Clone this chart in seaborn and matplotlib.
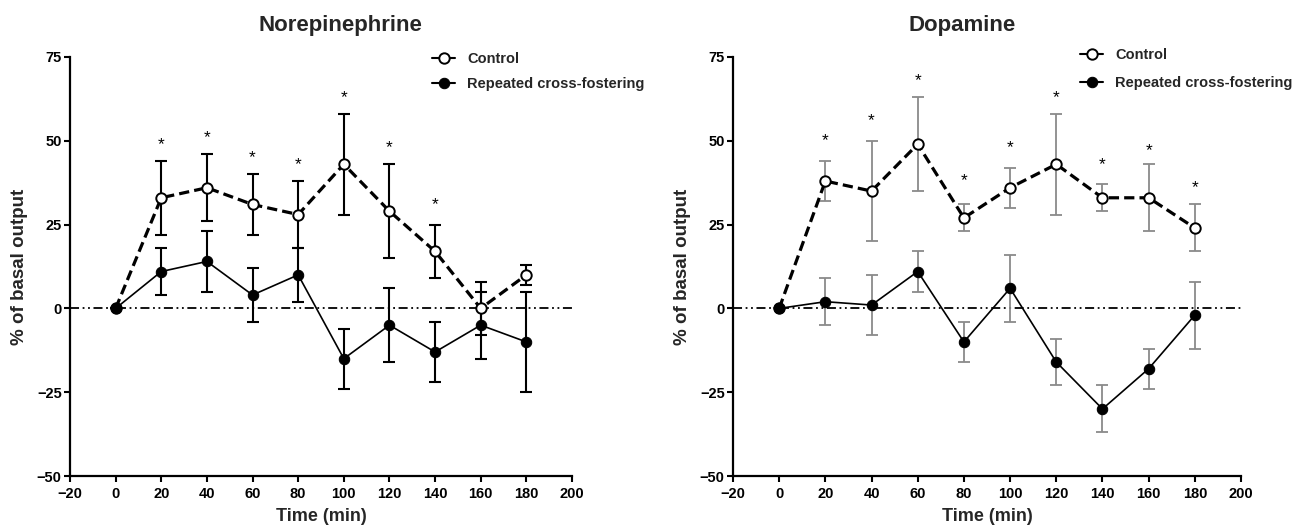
import matplotlib
matplotlib.use("Agg")
import matplotlib.pyplot as plt
import seaborn as sns
import pandas as pd
import numpy as np

# ---- data ----
time = [0, 20, 40, 60, 80, 100, 120, 140, 160, 180]

ne_ctrl = [0, 33, 36, 31, 28, 43, 29, 17, 0, 10]
ne_ctrl_err = [0, 11, 10, 9, 10, 15, 14, 8, 8, 3]
ne_rcf = [0, 11, 14, 4, 10, -15, -5, -13, -5, -10]
ne_rcf_err = [0, 7, 9, 8, 8, 9, 11, 9, 10, 15]
ne_star_x = [20, 40, 60, 80, 100, 120, 140]
ne_star_y = [49, 51, 45, 43, 63, 48, 31]

da_ctrl = [0, 38, 35, 49, 27, 36, 43, 33, 33, 24]
da_ctrl_err = [0, 6, 15, 14, 4, 6, 15, 4, 10, 7]
da_rcf = [0, 2, 1, 11, -10, 6, -16, -30, -18, -2]
da_rcf_err = [0, 7, 9, 6, 6, 10, 7, 7, 6, 10]
da_star_x = [20, 40, 60, 80, 100, 120, 140, 160, 180]
da_star_y = [50, 56, 68, 38, 48, 63, 43, 47, 36]

titles = ["Norepinephrine", "Dopamine"]
series_names = ["Control", "Repeated cross-fostering"]
xticks = list(range(-20, 201, 20))
yticks = [-50, -25, 0, 25, 50, 75]

sns.set_theme(style="ticks")
plt.rcParams["font.family"] = ["Liberation Sans", "DejaVu Sans"]

W, H = 1293, 527
fig = plt.figure(figsize=(W / 100, H / 100), dpi=100)

def fx(px):
    return px / W

def fy(py):
    return 1 - py / H

ax1 = fig.add_axes([fx(70), fy(476), fx(572 - 70), (476 - 57) / H])
ax2 = fig.add_axes([fx(733), fy(476), fx(1241 - 733), (476 - 57) / H])

panels = [
    (ax1, ne_ctrl, ne_ctrl_err, ne_rcf, ne_rcf_err, ne_star_x, ne_star_y, "black", 1.5, 340, 432, 52, 0.75),
    (ax2, da_ctrl, da_ctrl_err, da_rcf, da_rcf_err, da_star_x, da_star_y, "#8a8a8a", 1.3, 962, 1080, 48, 0.95),
]

for i, (ax, c, ce, r, re_, sx, sy, ecol, elw, tx, lx, ly, lsp) in enumerate(panels):
    df = pd.DataFrame({
        "time": time * 2,
        "value": c + r,
        "group": [series_names[0]] * len(time) + [series_names[1]] * len(time),
    })
    # zero reference line
    ax.axhline(0, color="black", lw=1.3, ls=(0, (5, 2, 1, 2, 1, 2)), zorder=1)
    # error bars
    ax.errorbar(time, c, yerr=ce, fmt="none", ecolor=ecol, elinewidth=elw,
                capsize=4.5, capthick=elw, zorder=2)
    ax.errorbar(time, r, yerr=re_, fmt="none", ecolor=ecol, elinewidth=elw,
                capsize=4.5, capthick=elw, zorder=2)
    # lines
    sns.lineplot(data=df[df.group == series_names[0]], x="time", y="value", ax=ax,
                 color="black", lw=2.3, marker="o", markersize=7.5,
                 markerfacecolor="white", markeredgecolor="black", markeredgewidth=1.4,
                 dashes=False, linestyle=(0, (3.2, 1.6)), label=series_names[0], zorder=3)
    sns.lineplot(data=df[df.group == series_names[1]], x="time", y="value", ax=ax,
                 color="black", lw=1.2, marker="o", markersize=7.5,
                 markerfacecolor="black", markeredgecolor="black",
                 label=series_names[1], zorder=4)
    # stars
    for xs, ys in zip(sx, sy):
        ax.text(xs, ys, "*", ha="center", va="center", fontsize=12.5, color="black")

    ax.set_xlim(-20, 200)
    ax.set_ylim(-50, 75)
    ax.set_xticks(xticks)
    ax.set_yticks(yticks)
    for lab in ax.get_xticklabels() + ax.get_yticklabels():
        lab.set_fontweight("bold")
        lab.set_fontsize(10.5)
    ax.tick_params(direction="out", length=4, width=1.5, pad=2, colors="black")
    ax.tick_params(axis="x", pad=4)
    for s in ["top", "right"]:
        ax.spines[s].set_visible(False)
    for s in ["left", "bottom"]:
        ax.spines[s].set_linewidth(1.6)
        ax.spines[s].set_color("black")
    ax.set_xlabel("Time (min)", fontsize=13, fontweight="bold", labelpad=5)
    ax.set_ylabel("% of basal output", fontsize=13.5, fontweight="bold", labelpad=6)

    fig.text(fx(tx), fy(25), titles[i], ha="center", va="center",
             fontsize=16, fontweight="bold")

    leg = ax.legend(loc="upper left", bbox_to_anchor=(fx(lx), fy(ly)),
                    bbox_transform=fig.transFigure, frameon=False,
                    handlelength=1.6, handletextpad=0.8,
                    borderpad=0, borderaxespad=0, labelspacing=lsp,
                    prop={"weight": "bold", "size": 10.5})
    for h in leg.legend_handles:
        h.set_linestyle("-")
        h.set_linewidth(1.5)

fig.savefig("out.png", dpi=100)
